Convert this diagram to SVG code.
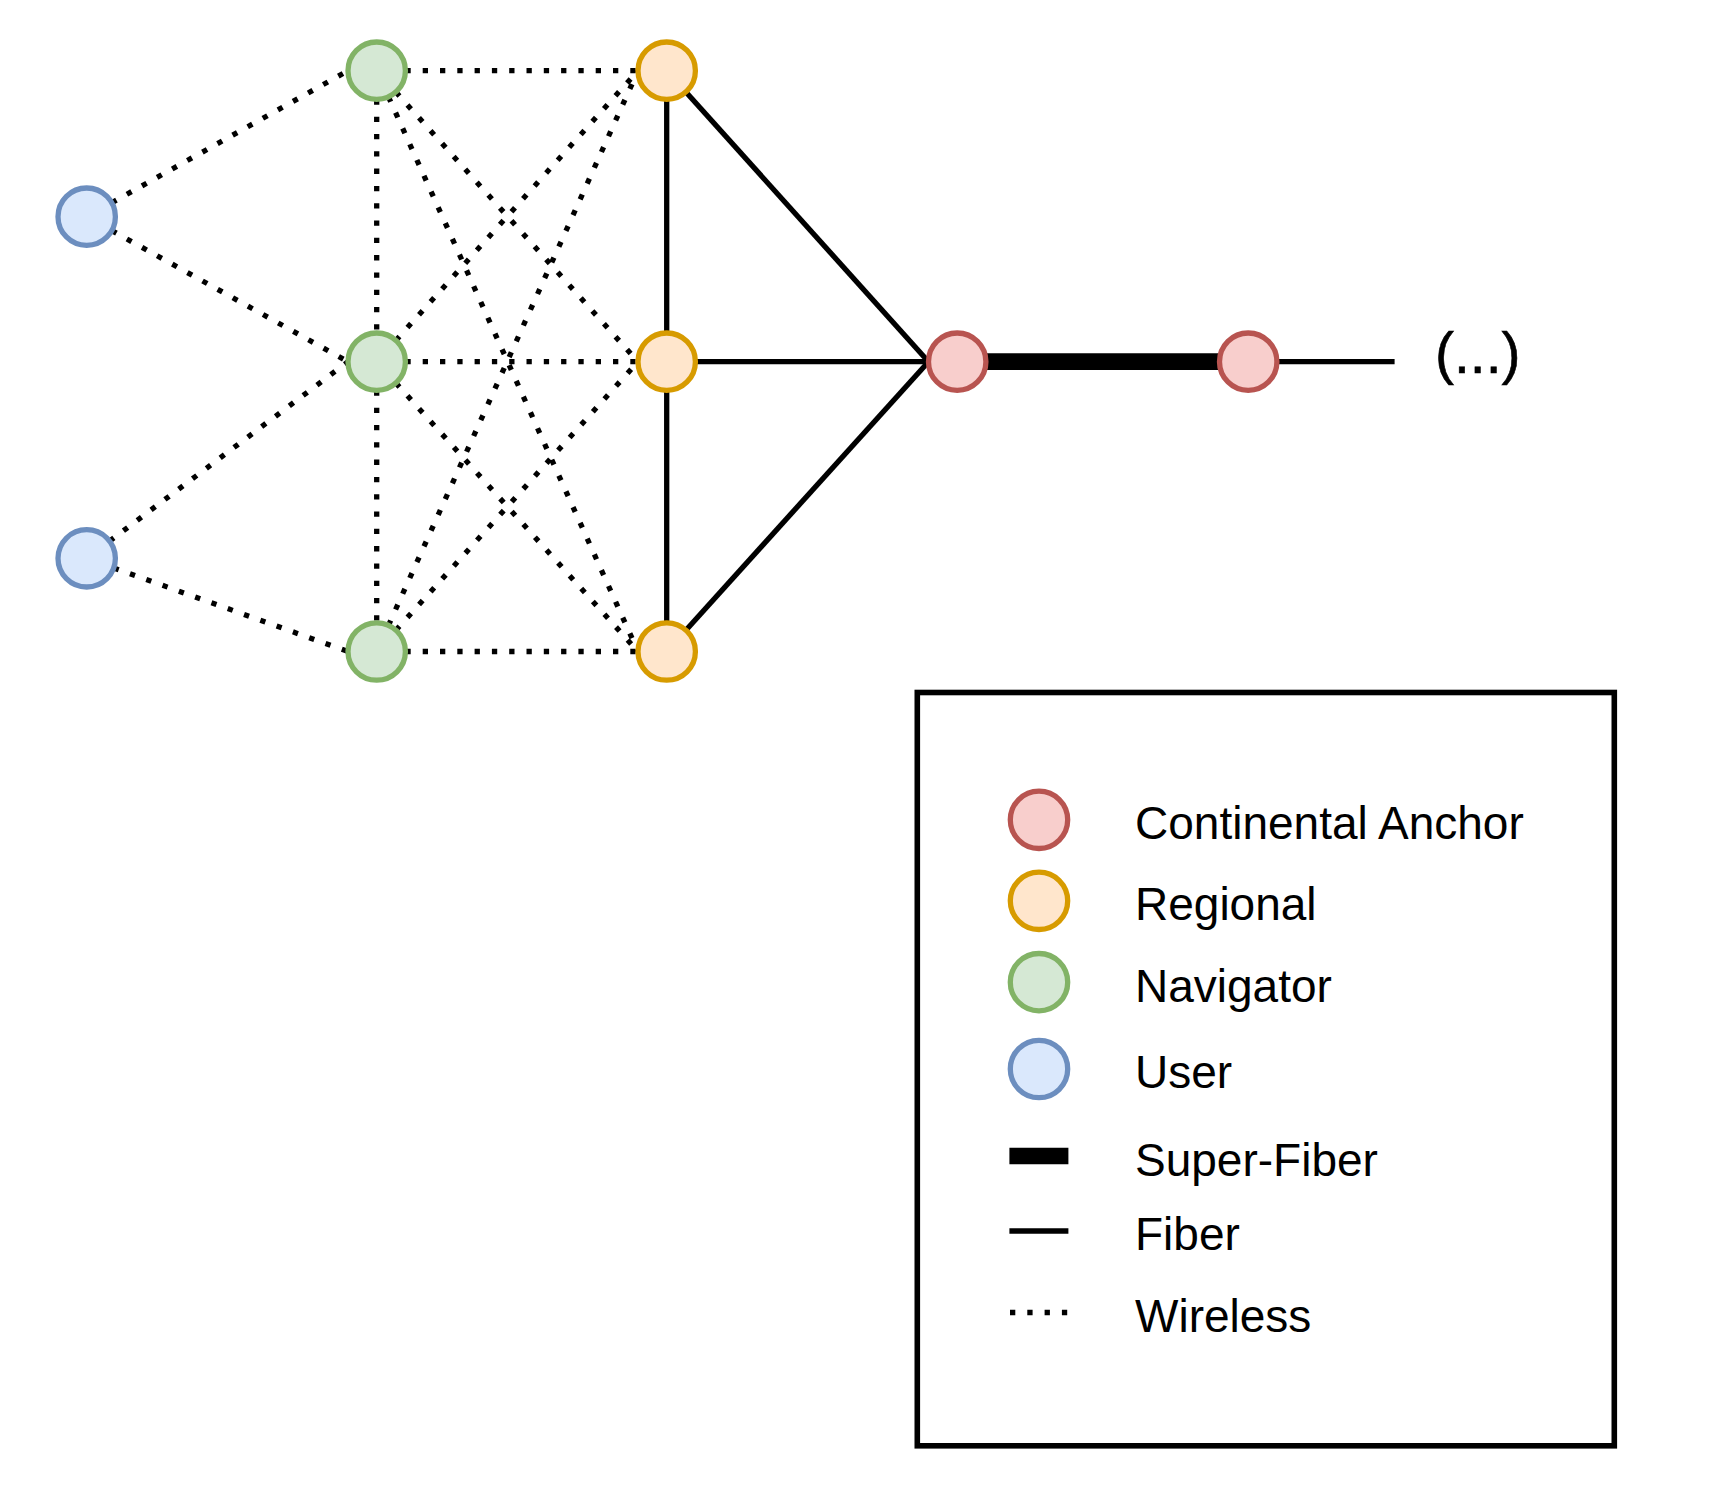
<svg xmlns="http://www.w3.org/2000/svg" width="1716" height="1498" viewBox="0 0 1716 1498">
<style>
.user{fill:#dae8fc;stroke:#6c8ebf;stroke-width:5.3}
.nav{fill:#d5e8d4;stroke:#82b366;stroke-width:5.3}
.reg{fill:#ffe6cc;stroke:#d79b00;stroke-width:5.3}
.ca{fill:#f8cecc;stroke:#b85450;stroke-width:5.3}
.wl{stroke:#000;stroke-width:5.3;stroke-dasharray:5.3 12;fill:none}
.fb{stroke:#000;stroke-width:5.3;fill:none}
.sf{stroke:#000;stroke-width:16.7;fill:none}
.lbl{font-family:"Liberation Sans",Arial,Helvetica,sans-serif;font-size:46px;fill:#000}
</style>
<rect width="1716" height="1498" fill="#fff"/>
<g id="connectors">
<line class="wl" x1="111.8" y1="202.7" x2="348" y2="70.7"/>
<line class="wl" x1="111.8" y1="230.6" x2="348" y2="361.7"/>
<line class="wl" x1="109.6" y1="541.1" x2="348" y2="361.7"/>
<line class="wl" x1="113.7" y1="567.9" x2="348" y2="651.5"/>
<line class="wl" x1="376.7" y1="99.4" x2="376.7" y2="333"/>
<line class="wl" x1="376.7" y1="390.4" x2="376.7" y2="622.8"/>
<line class="wl" x1="405.4" y1="70.7" x2="638" y2="70.7"/>
<line class="wl" x1="405.4" y1="361.7" x2="638" y2="361.7"/>
<line class="wl" x1="405.4" y1="651.5" x2="638" y2="651.5"/>
<line class="wl" x1="395.9" y1="92.1" x2="638" y2="361.7"/>
<line class="wl" x1="388.5" y1="96.9" x2="638" y2="651.5"/>
<line class="wl" x1="395.9" y1="340.4" x2="638" y2="70.7"/>
<line class="wl" x1="395.9" y1="383.0" x2="638" y2="651.5"/>
<line class="wl" x1="388.5" y1="625.3" x2="638" y2="70.7"/>
<line class="wl" x1="395.9" y1="630.2" x2="638" y2="361.7"/>
<line class="fb" x1="666.7" y1="99.4" x2="666.7" y2="333"/>
<line class="fb" x1="666.7" y1="390.4" x2="666.7" y2="622.8"/>
<line class="fb" x1="685.9" y1="92.0" x2="928.5" y2="361.7"/>
<line class="fb" x1="695.4" y1="361.7" x2="928.5" y2="361.7"/>
<line class="fb" x1="685.9" y1="630.2" x2="928.5" y2="361.7"/>
<line class="sf" x1="985.9" y1="361.7" x2="1219.5" y2="361.7"/>
<line class="fb" x1="1276.9" y1="361.7" x2="1394.6" y2="361.7"/>
</g>
<g id="user1"><circle class="user" cx="86.7" cy="216.7" r="28.7"/></g>
<g id="user2"><circle class="user" cx="86.7" cy="558.3" r="28.7"/></g>
<g id="nav1"><circle class="nav" cx="376.7" cy="70.7" r="28.7"/></g>
<g id="nav2"><circle class="nav" cx="376.7" cy="361.7" r="28.7"/></g>
<g id="nav3"><circle class="nav" cx="376.7" cy="651.5" r="28.7"/></g>
<g id="reg1"><circle class="reg" cx="666.7" cy="70.7" r="28.7"/></g>
<g id="reg2"><circle class="reg" cx="666.7" cy="361.7" r="28.7"/></g>
<g id="reg3"><circle class="reg" cx="666.7" cy="651.5" r="28.7"/></g>
<g id="ca1"><circle class="ca" cx="957.2" cy="361.7" r="28.7"/></g>
<g id="ca2"><circle class="ca" cx="1248.2" cy="361.7" r="28.7"/></g>
<g id="more"><text x="1435" y="373.3" font-family="'Liberation Sans',Arial,Helvetica,sans-serif" font-size="57" stroke="#000" stroke-width="0.6">(...)</text></g>
<g id="legend">
<rect x="917.3" y="692.5" width="697" height="753.3" fill="none" stroke="#000" stroke-width="5.6"/>
<circle class="ca" cx="1039" cy="819.8" r="28.7"/>
<text class="lbl" x="1135" y="839.3">Continental Anchor</text>
<circle class="reg" cx="1039" cy="900.8" r="28.7"/>
<text class="lbl" x="1135" y="920">Regional</text>
<circle class="nav" cx="1039" cy="982.2" r="28.7"/>
<text class="lbl" x="1135" y="1001.5">Navigator</text>
<circle class="user" cx="1039" cy="1069" r="28.7"/>
<text class="lbl" x="1135" y="1088.3">User</text>
<line class="sf" x1="1009.4" y1="1156" x2="1068.4" y2="1156" stroke-width="17.3"/>
<text class="lbl" x="1135" y="1175.7">Super-Fiber</text>
<line class="fb" x1="1009.4" y1="1231" x2="1068.4" y2="1231"/>
<text class="lbl" x="1135" y="1250">Fiber</text>
<line class="wl" x1="1010" y1="1312.5" x2="1068" y2="1312.5"/>
<text class="lbl" x="1135" y="1331.7">Wireless</text>
</g>
</svg>
